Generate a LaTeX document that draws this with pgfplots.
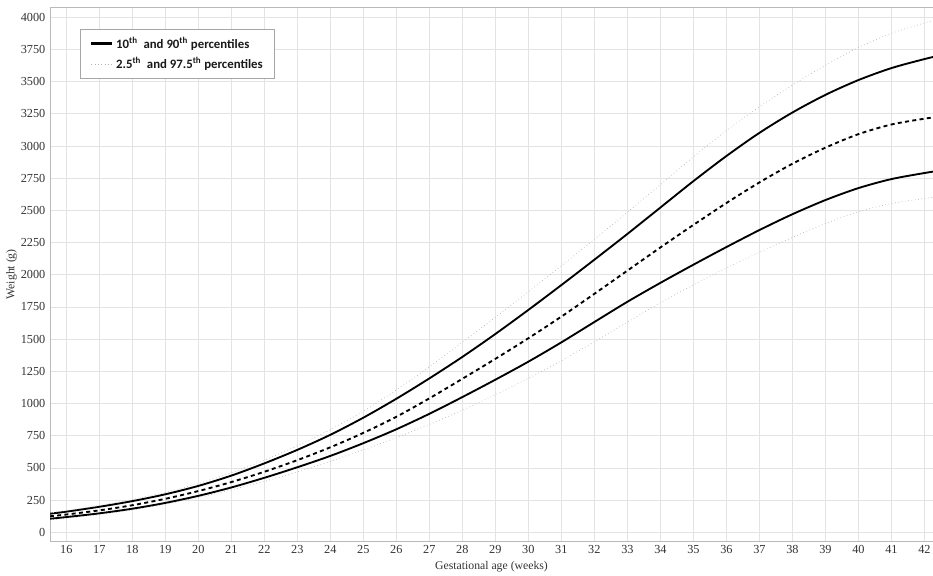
\documentclass[border=0pt]{standalone}
\usepackage{pgfplots}
\pgfplotsset{compat=1.18}
\usepackage{pgfplotstable}
\usepackage{fontspec}
\setmainfont{Liberation Serif}
\newfontfamily\legfont{Carlito}
\pgfplotstableread{
wk    p90   p50   p10   p975  p025
15.5  144   124   105   150   96
16    160   138   118   168   108
17    198   170   147   208   137
18    242   210   183   255   173
19    295   260   228   310   218
20    360   320   283   378   270
21    440   390   348   462   330
22    535   470   423   560   395
23    640   560   505   672   468
24    757   660   593   797   550
25    890   772   692   940   640
26    1037  897   800   1105  735
27    1195  1040  920   1285  838
28    1362  1192  1050  1475  948
29    1540  1347  1185  1670  1068
30    1727  1507  1325  1868  1195
31    1920  1675  1475  2070  1332
32    2117  1852  1633  2275  1480
33    2317  2032  1790  2485  1632
34    2522  2212  1937  2700  1782
35    2727  2387  2078  2915  1922
36    2922  2557  2215  3120  2052
37    3102  2717  2347  3305  2174
38    3260  2862  2470  3473  2290
39    3397  2987  2580  3627  2398
40    3512  3092  2673  3765  2490
41    3605  3167  2743  3875  2553
42    3675  3212  2790  3955  2593
42.5  3705  3230  2810  3990  2607
}\data
\begin{document}
\begin{tikzpicture}
\begin{axis}[
  scale only axis,
  width=662pt, height=401pt,
  xmin=15.506, xmax=42.26,
  ymin=-74, ymax=4080,
  xtick={16,...,42},
  ytick={0,250,...,4000},
  grid=major,
  major grid style={gray!22, line width=0.5pt},
  axis line style={gray!55, line width=0.6pt},
  axis x line*=bottom,
  axis y line*=left,
  tick style={draw=none},
  ticklabel style={font=\fontsize{9.2}{11}\selectfont, text=black!80},
  xticklabel style={yshift=1pt},
  /pgf/number format/assume math mode=true,
  /pgf/number format/1000 sep={},
  xlabel={Gestational age (weeks)},
  ylabel={Weight (g)},
  xlabel style={font=\fontsize{8.8}{10}\selectfont, text=black!80, yshift=1pt},
  ylabel style={font=\fontsize{8.8}{10}\selectfont, text=black!80, yshift=-4pt},
  clip=true,
  legend style={at={(0.034,0.959)}, anchor=north west, draw=gray!70, line width=0.5pt,
    font=\legfont\bfseries\fontsize{9.6}{11}\selectfont, fill=white,
    inner xsep=7pt, inner ysep=4pt, row sep=1.5pt, text=black!90},
  legend cell align=left,
  legend image code/.code={\draw[#1] (0cm,0cm) -- (0.55cm,0cm);},
]
\draw[gray!55, line width=0.6pt] (rel axis cs:0,1) -- (rel axis cs:1,1);
\addlegendimage{black, line width=2.2pt}
\addlegendentry{10\textsuperscript{th}\ \ and 90\textsuperscript{th} percentiles}
\addlegendimage{gray!60, line width=0.5pt, dotted}
\addlegendentry{2.5\textsuperscript{th}\ \ and 97.5\textsuperscript{th} percentiles}
\addplot[black, line width=1.4pt, smooth, forget plot] table[x=wk, y=p90] {\data};
\addplot[gray!60, line width=0.5pt, dotted, smooth, forget plot] table[x=wk, y=p975] {\data};
\addplot[gray!60, line width=0.5pt, dotted, smooth, forget plot] table[x=wk, y=p025] {\data};
\addplot[black, line width=1.4pt, smooth, forget plot] table[x=wk, y=p10] {\data};
\addplot[black, line width=1.4pt, dashed, dash pattern=on 3pt off 2.5pt, smooth, forget plot] table[x=wk, y=p50] {\data};
\end{axis}
\pgfresetboundingbox
\path (current axis.south west) ++(-37.5pt,-25.5pt) coordinate (bl);
\path (current axis.north east) ++(0pt,5.2pt) coordinate (tr);
\path (bl) rectangle (tr);
\end{tikzpicture}
\end{document}
